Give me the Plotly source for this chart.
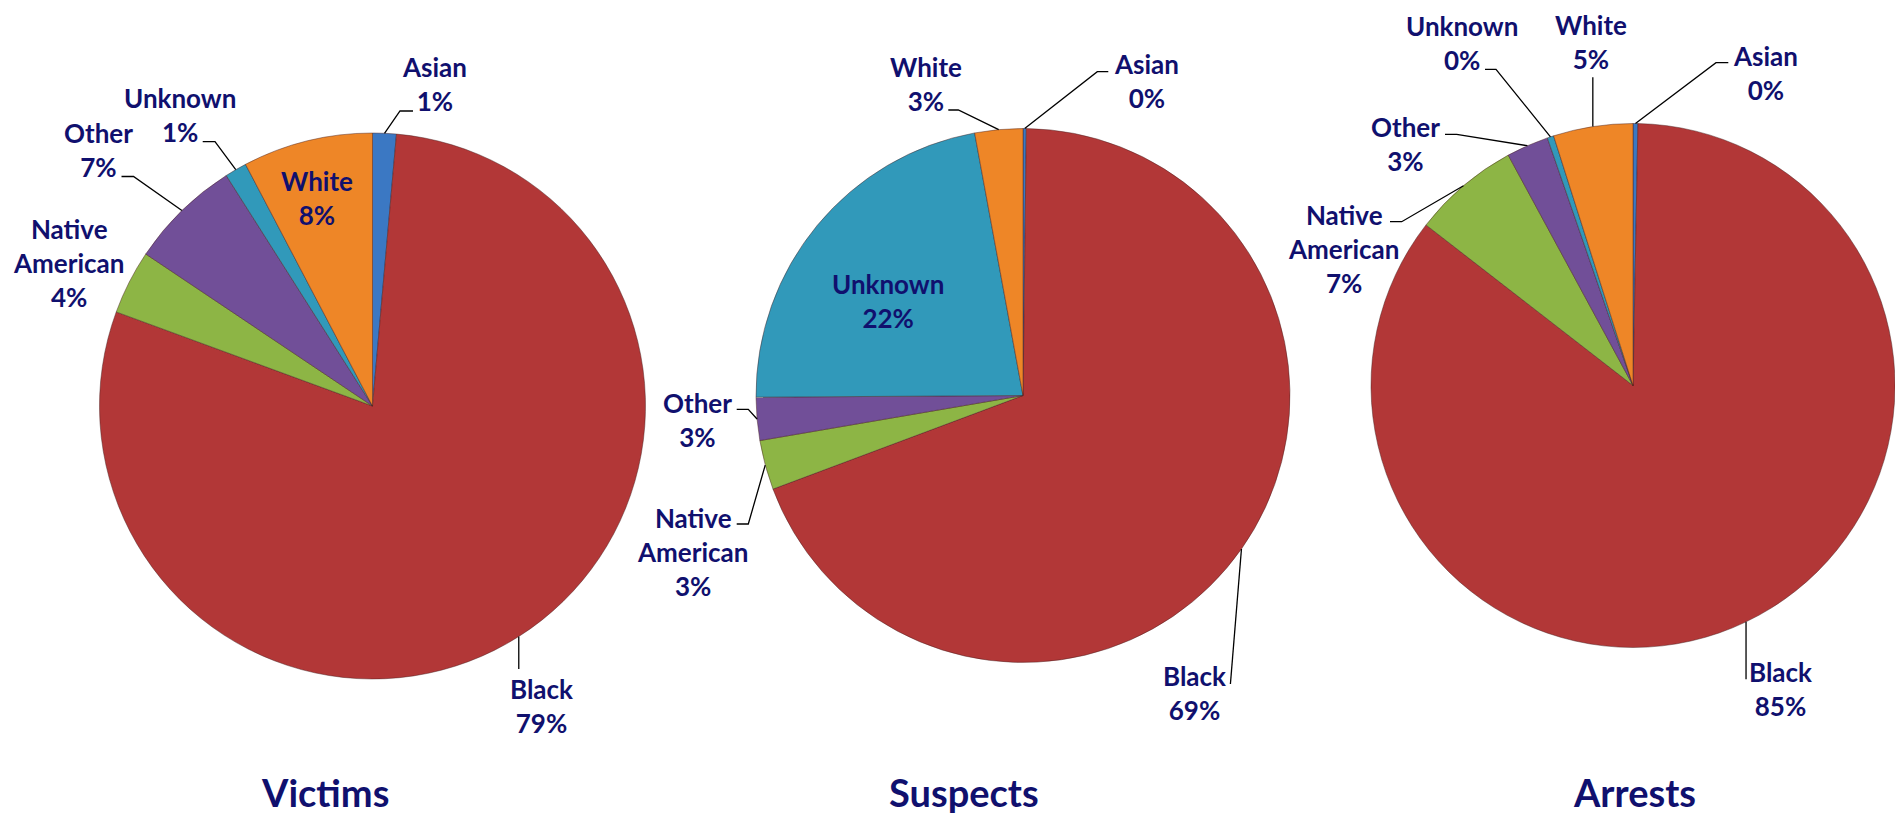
import math
import plotly.graph_objects as go

W, H = 1895, 816

# ---------------- data ----------------
categories = ["Asian", "Black", "Native American", "Other", "Unknown", "White"]
victims = [1.4, 79.2, 3.8, 6.6, 1.3, 7.7]
suspects = [0.2, 69.1, 3.0, 2.6, 22.2, 2.9]
arrests = [0.3, 85.2, 6.6, 2.6, 0.4, 4.9]
titles = ["Victims", "Suspects", "Arrests"]
colors = ["#3B78C3", "#B23737", "#8DB545", "#714F98", "#3199BA", "#EE8627"]

series = [victims, suspects, arrests]

# ---------------- layout (pixel positions) ----------------
pies = [
    dict(cx=372.5, cy=406, r=273, title_x=325),
    dict(cx=1023, cy=395.5, r=267, title_x=964),
    dict(cx=1633, cy=385.5, r=262, title_x=1634),
]
# label centre and leader line (points after the slice edge; None x = vertical)
label_layout = [
    {
        "Asian": ((434, 84), [(400, 111), (413, 111)]),
        "Black": ((541, 706), [(None, 669)]),
        "Native American": ((68, 263), None),
        "Other": ((98, 150), [(133.5, 176.5), (121.5, 176.5)]),
        "Unknown": ((179.5, 115), [(215, 141.7), (202.7, 141.7)]),
        "White": ((316.7, 197.5), None),
    },
    {
        "Asian": ((1146.7, 81.4), [(1097.3, 71.7), (1108.3, 71.7)]),
        "Black": ((1194.6, 693), [(1230.4, 684)]),
        "Native American": ((692, 551.7), [(748.3, 524), (736.7, 524)]),
        "Other": ((697, 420), [(748.3, 409.3), (736.7, 409.3)]),
        "Unknown": ((888, 301), None),
        "White": ((925.5, 84.2), [(958.3, 110), (948.3, 110)]),
    },
    {
        "Asian": ((1765, 73.3), [(1716, 62.7), (1728.3, 62.7)]),
        "Black": ((1780.6, 689), [(None, 679.3)]),
        "Native American": ((1343.5, 249.3), [(1401.7, 221.7), (1390, 221.7)]),
        "Other": ((1405.5, 144), [(1456.7, 134.3), (1445, 134.3)]),
        "Unknown": ((1462, 43.3), [(1496, 69.3), (1485, 69.3)]),
        "White": ((1590.6, 42.3), [(None, 77.3)]),
    },
]

TEXT_COLOR = "#10106E"
FONT = "Lato, 'Open Sans', 'DejaVu Sans', sans-serif"


def px(x):
    return x / W


def py(y):
    return 1 - y / H


fig = go.Figure()
annotations = []
shapes = []

for k, (vals, geo) in enumerate(zip(series, pies)):
    cx, cy, r = geo["cx"], geo["cy"], geo["r"]
    fig.add_trace(go.Pie(
        labels=categories,
        values=vals,
        sort=False,
        direction="clockwise",
        rotation=0,
        textinfo="none",
        hoverinfo="label+percent",
        marker=dict(colors=colors, line=dict(color="rgba(70,30,30,0.45)", width=1)),
        domain=dict(x=[px(cx - r), min(1.0, px(cx + r))],
                    y=[py(cy + r), py(cy - r)]),
        showlegend=False,
    ))
    total = sum(vals)
    cum = 0.0
    for cat, v in zip(categories, vals):
        mid = (cum + v / 2) / total
        cum += v
        ang = 2 * math.pi * mid
        ex, ey = cx + r * math.sin(ang), cy - r * math.cos(ang)
        pct = int(math.floor(v / total * 100 + 0.5))
        name = cat.replace(" ", "<br>")
        (lx, ly), leader = label_layout[k][cat]
        annotations.append(dict(
            x=px(lx), y=py(ly), xref="paper", yref="paper",
            text=f"<b>{name}<br>{pct}%</b>", showarrow=False,
            xanchor="center", yanchor="middle", align="center",
            font=dict(family=FONT, size=26, color=TEXT_COLOR),
        ))
        if leader:
            pts = [(ex, ey)]
            for (qx, qy) in leader:
                pts.append((pts[-1][0] if qx is None else qx, qy))
            path = "M " + " L ".join(f"{px(a):.5f},{py(b):.5f}" for a, b in pts)
            shapes.append(dict(type="path", path=path, xref="paper", yref="paper",
                               line=dict(color="black", width=1.3)))
    annotations.append(dict(
        x=px(geo["title_x"]), y=0, xref="paper", yref="paper",
        text=f"<b>{titles[k]}</b>", showarrow=False,
        xanchor="center", yanchor="bottom", borderpad=0,
        font=dict(family=FONT, size=38, color=TEXT_COLOR),
    ))

fig.update_layout(
    width=W, height=H,
    margin=dict(l=0, r=0, t=0, b=0),
    paper_bgcolor="white",
    plot_bgcolor="white",
    annotations=annotations,
    shapes=shapes,
    showlegend=False,
)

fig.write_html("out.html",
               config={"displayModeBar": False},
               post_script="document.body.style.margin='0';document.body.style.overflow='hidden';")
